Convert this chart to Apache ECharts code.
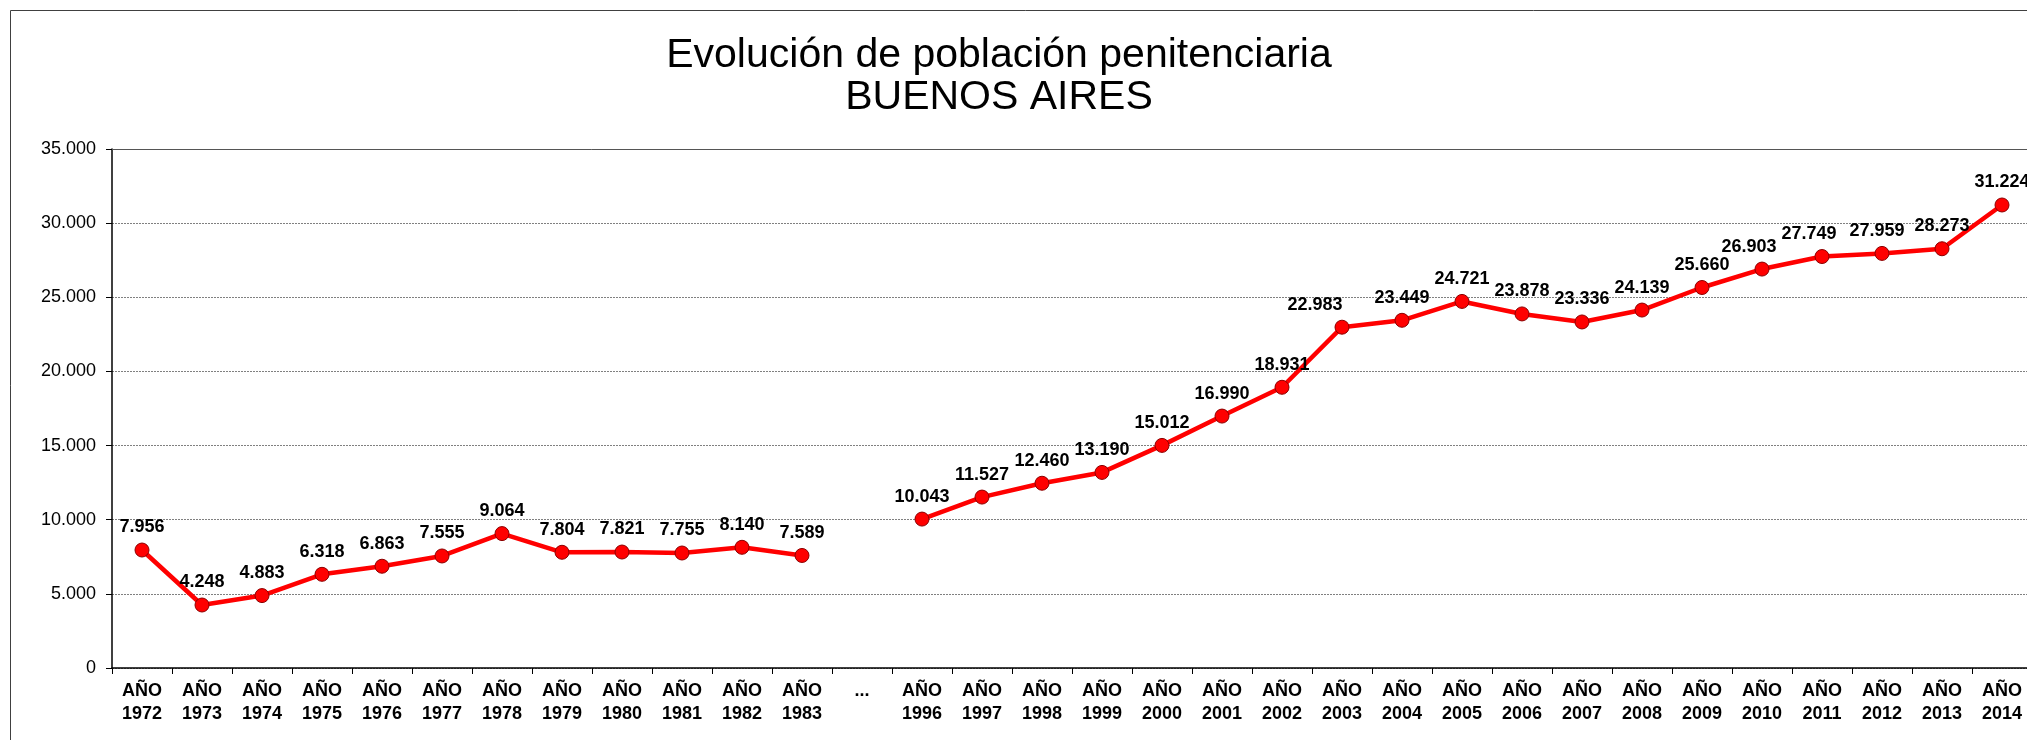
<!DOCTYPE html>
<html>
<head>
<meta charset="utf-8">
<title>Evolución de población penitenciaria - Buenos Aires</title>
<script src="https://cdn.jsdelivr.net/npm/echarts@6/dist/echarts.min.js"></script>
<style>
  html, body { margin: 0; padding: 0; background: #fff; overflow: hidden; }
  #chart { width: 2040px; height: 760px; }
</style>
</head>
<body>
<div id="chart"></div>
<script>
// Years shown on the category axis; "..." marks the skipped 1984–1995 span
const years = ['1972', '1973', '1974', '1975', '1976', '1977', '1978', '1979', '1980', '1981', '1982', '1983',
  '...',
  '1996', '1997', '1998', '1999', '2000', '2001', '2002', '2003', '2004', '2005', '2006', '2007',
  '2008', '2009', '2010', '2011', '2012', '2013', '2014'];

// Prison population per year (null = no data for the gap)
const population = [7956, 4248, 4883, 6318, 6863, 7555, 9064, 7804, 7821, 7755, 8140, 7589,
  null,
  10043, 11527, 12460, 13190, 15012, 16990, 18931, 22983, 23449, 24721, 23878, 23336,
  24139, 25660, 26903, 27749, 27959, 28273, 31224];

// Y axis scale
const yMin = 0;
const yMax = 35000;
const yStep = 5000;

const FONT = '"Liberation Sans", Arial, Helvetica, sans-serif';

// Thousands with a dot separator (es-AR style)
function fmt(v) {
  return String(Math.round(v)).replace(/\B(?=(\d{3})+(?!\d))/g, '.');
}

// A few labels sit a little left of their point to keep clear of the line
const labelNudge = { '2003': [-27, 0], '2010': [-13, 0], '2011': [-13, 0], '2012': [-5, 0] };

const seriesData = population.map((v, i) => {
  const item = { value: v };
  if (labelNudge[years[i]]) item.label = { offset: labelNudge[years[i]] };
  return item;
});

const chart = echarts.init(document.getElementById('chart'), null, { renderer: 'canvas' });

chart.setOption({
  backgroundColor: '#ffffff',
  animation: false,
  graphic: [
    {
      type: 'rect',
      silent: true,
      shape: { x: 10.5, y: 10.5, width: 2200, height: 900 },
      style: { fill: 'none', stroke: '#404040', lineWidth: 1 }
    },
    {
      type: 'text',
      silent: true,
      x: 999,
      y: 35,
      style: {
        text: 'Evolución de población penitenciaria\nBUENOS AIRES',
        font: '41px ' + FONT,
        fill: '#000000',
        textAlign: 'center',
        textVerticalAlign: 'top',
        lineHeight: 42
      }
    }
  ],
  grid: { left: 112, right: 8, top: 149, bottom: 92 },
  xAxis: [
    {
      type: 'category',
      data: years,
      boundaryGap: true,
      axisLine: { show: true, lineStyle: { color: '#000000', width: 1.5 } },
      axisTick: { show: true, alignWithLabel: false, length: 6, lineStyle: { color: '#000000' } },
      axisLabel: {
        interval: 0,
        margin: 12,
        color: '#000000',
        fontFamily: FONT,
        fontSize: 18,
        fontWeight: 'bold',
        lineHeight: 23,
        formatter: (y) => (y === '...' ? '...' : 'AÑO\n' + y)
      },
      splitLine: { show: false }
    },
    {
      // top edge of the plot area
      type: 'category',
      position: 'top',
      data: years,
      axisLine: { show: true, lineStyle: { color: '#555555', width: 1 } },
      axisTick: { show: false },
      axisLabel: { show: false },
      splitLine: { show: false }
    }
  ],
  yAxis: {
    type: 'value',
    min: yMin,
    max: yMax,
    interval: yStep,
    axisLine: { show: true, lineStyle: { color: '#000000', width: 1.5 } },
    axisTick: { show: true, inside: false, length: 6, lineStyle: { color: '#000000' } },
    axisLabel: {
      margin: 16,
      color: '#000000',
      fontFamily: FONT,
      fontSize: 18,
      formatter: (v) => fmt(v)
    },
    splitLine: { show: true, lineStyle: { color: '#808080', width: 1, type: [2, 1] } }
  },
  series: [
    {
      type: 'line',
      xAxisIndex: 0,
      data: seriesData,
      connectNulls: false,
      symbol: 'circle',
      symbolSize: 14,
      lineStyle: { color: '#FF0000', width: 4.5 },
      itemStyle: { color: '#FF0000', borderColor: '#8B0000', borderWidth: 1 },
      label: {
        show: true,
        position: 'top',
        distance: 6,
        color: '#000000',
        fontFamily: FONT,
        fontSize: 18,
        fontWeight: 'bold',
        formatter: (p) => fmt(p.value)
      },
      z: 3
    }
  ]
});
</script>
</body>
</html>
